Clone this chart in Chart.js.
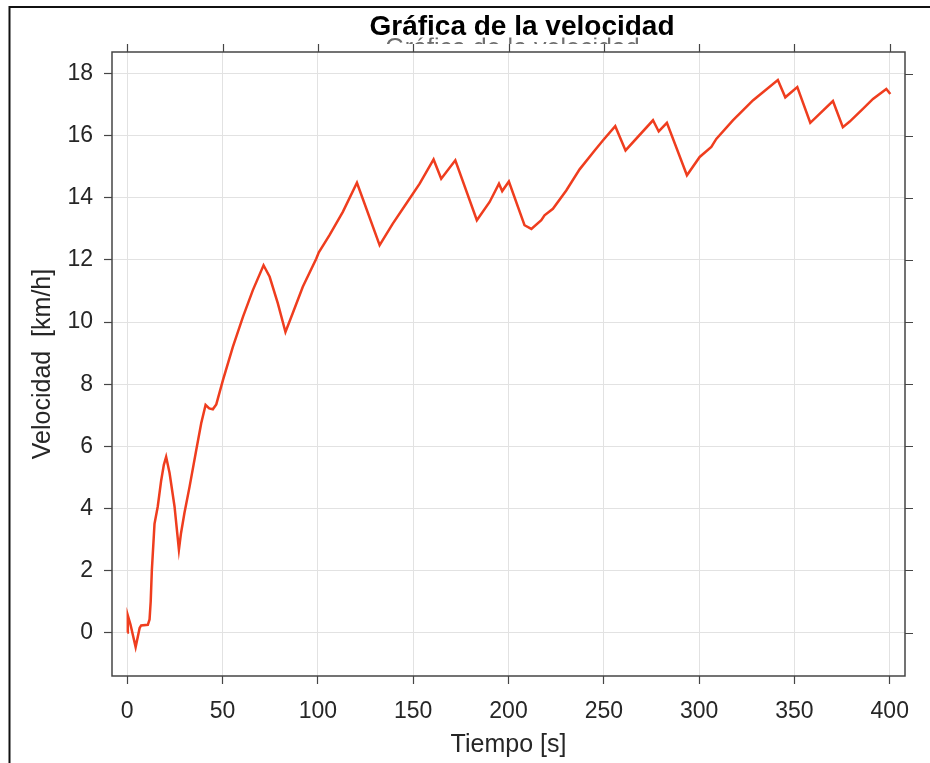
<!DOCTYPE html>
<html lang="es">
<head>
<meta charset="utf-8">
<title>Gráfica de la velocidad</title>
<script src="https://cdn.jsdelivr.net/npm/chart.js@4/dist/chart.umd.min.js"></script>
<style>
  html, body { margin: 0; padding: 0; background: #ffffff; }
  #wrap { position: relative; width: 930px; height: 763px; }
</style>
</head>
<body>
<div id="wrap"><canvas id="grafica" width="930" height="763"></canvas></div>
<script>
// Tiempo en segundos y velocidad medida en km/h
const tiempo = [
  0, 0.3, 1.7, 4.4, 6.5, 7.3, 10.8, 11.7, 12.3, 12.9, 14.3, 16, 17.8, 19.2, 20.4,
  22.2, 24.8, 27.1, 28.2, 30, 32.7, 36.2, 38.8, 41.1, 43, 44.9, 46.7, 50.2, 55.4,
  60.7, 65.9, 71.5, 74.7, 79, 83, 86.9, 92.1, 99.2, 100.5, 106.1, 113.1, 120.5,
  132.4, 139.3, 146.4, 153.4, 160.7, 164.7, 172.1, 183.4, 190.1, 195, 196.7,
  200.2, 208.4, 212, 217.2, 218.9, 223.3, 230.3, 237.3, 245.2, 249.5, 256, 261.4,
  275.8, 278.8, 283.1, 293.6, 300.3, 306.4, 309, 317.7, 328.2, 341.3, 345.2,
  351.5, 358.3, 370.2, 375.4, 379, 385.9, 391.2, 398.2, 400.3
];
const velocidad = [
  0, 0.55, 0.26, -0.47, 0.15, 0.23, 0.25, 0.42, 1.0, 2.0, 3.5, 4.06, 4.9, 5.4, 5.66,
  5.14, 4.06, 2.67, 3.2, 3.85, 4.7, 5.88, 6.74, 7.33, 7.22, 7.19, 7.35, 8.13, 9.2,
  10.17, 11.03, 11.83, 11.46, 10.6, 9.68, 10.3, 11.14, 12.05, 12.25, 12.8, 13.55, 14.49,
  12.48, 13.17, 13.82, 14.46, 15.24, 14.62, 15.21, 13.28, 13.87, 14.46, 14.22,
  14.53, 13.12, 13.0, 13.28, 13.44, 13.65, 14.24, 14.92, 15.53, 15.85, 16.31, 15.53,
  16.5, 16.14, 16.42, 14.73, 15.32, 15.64, 15.9, 16.5, 17.14, 17.8, 17.24,
  17.57, 16.42, 17.12, 16.28, 16.46, 16.87, 17.19, 17.51, 17.35
];

// Marcas de los ejes
const ticksTiempo = [0, 50, 100, 150, 200, 250, 300, 350, 400];
const ticksVelocidad = [0, 2, 4, 6, 8, 10, 12, 14, 16, 18];

const titulo = 'Gráfica de la velocidad';
const etiquetaX = 'Tiempo [s]';
const etiquetaY = 'Velocidad  [km/h]';

const FUENTE = '"Liberation Sans", Arial, Helvetica, sans-serif';
const COLOR_TEXTO = '#262626';
const COLOR_EJE = '#454545';
const COLOR_REJILLA = '#e2e2e2';

const puntos = tiempo.map((t, i) => ({ x: t, y: velocidad[i] }));

// Caja de los ejes con marcas en los cuatro lados, marco exterior y título
const cajaEjes = {
  id: 'cajaEjes',
  afterDatasetsDraw(chart) {
    const { ctx, chartArea: a, scales } = chart;
    ctx.save();
    ctx.strokeStyle = COLOR_EJE;
    ctx.lineWidth = 1.5;
    ctx.strokeRect(a.left, a.top, a.right - a.left, a.bottom - a.top);
    ctx.beginPath();
    ticksTiempo.forEach(v => {
      const px = Math.round(scales.x.getPixelForValue(v)) + 0.5;
      ctx.moveTo(px, a.top);
      ctx.lineTo(px, a.top - 8);
    });
    ticksVelocidad.forEach(v => {
      const py = Math.round(scales.y.getPixelForValue(v)) + 0.5;
      ctx.moveTo(a.right, py);
      ctx.lineTo(a.right + 8, py);
    });
    ctx.lineWidth = 1.2;
    ctx.stroke();
    ctx.restore();
  },
  afterDraw(chart) {
    const { ctx, width, height } = chart;
    ctx.save();
    // marco exterior
    ctx.strokeStyle = '#111111';
    ctx.lineWidth = 2;
    ctx.beginPath();
    ctx.moveTo(9.5, height);
    ctx.lineTo(9.5, 7);
    ctx.lineTo(width, 7);
    ctx.stroke();

    // copia tenue del título, recortada bajo el principal
    ctx.save();
    ctx.beginPath();
    ctx.rect(0, 37.5, width, 6.5);
    ctx.clip();
    ctx.fillStyle = '#6e6e6e';
    ctx.font = '25px ' + FUENTE;
    ctx.textAlign = 'center';
    ctx.textBaseline = 'alphabetic';
    ctx.fillText(titulo, 512.5, 56);
    ctx.restore();

    // título principal
    ctx.fillStyle = '#000000';
    ctx.font = 'bold 28px ' + FUENTE;
    ctx.textAlign = 'center';
    ctx.textBaseline = 'alphabetic';
    ctx.fillText(titulo, 522, 35);
    ctx.restore();
  }
};

new Chart(document.getElementById('grafica'), {
  type: 'line',
  data: {
    datasets: [{
      label: 'Velocidad',
      data: puntos,
      borderColor: '#ef3d1e',
      borderWidth: 2.5,
      pointRadius: 0,
      tension: 0,
      fill: false
    }]
  },
  options: {
    responsive: false,
    animation: false,
    devicePixelRatio: 1,
    layout: { padding: { top: 52, right: 25, left: 0, bottom: 0 } },
    plugins: {
      legend: { display: false },
      tooltip: { enabled: false },
      title: { display: false }
    },
    scales: {
      x: {
        type: 'linear',
        min: -8,
        max: 408,
        afterBuildTicks: s => { s.ticks = ticksTiempo.map(v => ({ value: v })); },
        afterFit: s => { s.height = 87; },
        border: { display: false },
        grid: { color: COLOR_REJILLA, lineWidth: 1, tickColor: COLOR_EJE, tickLength: 8, tickWidth: 1.2 },
        ticks: {
          color: COLOR_TEXTO,
          font: { family: FUENTE, size: 23 },
          padding: 14,
          maxRotation: 0,
          autoSkip: false
        },
        title: {
          display: true,
          text: etiquetaX,
          color: COLOR_TEXTO,
          font: { family: FUENTE, size: 25 },
          padding: { top: 0, bottom: 3 }
        }
      },
      y: {
        type: 'linear',
        min: -1.4,
        max: 18.7,
        afterBuildTicks: s => { s.ticks = ticksVelocidad.map(v => ({ value: v })); },
        afterFit: s => { s.width = 112; },
        border: { display: false },
        grid: { color: COLOR_REJILLA, lineWidth: 1, tickColor: COLOR_EJE, tickLength: 8, tickWidth: 1.2 },
        ticks: {
          color: COLOR_TEXTO,
          font: { family: FUENTE, size: 23 },
          padding: 11,
          autoSkip: false
        },
        title: {
          display: true,
          text: etiquetaY,
          color: COLOR_TEXTO,
          font: { family: FUENTE, size: 25 },
          padding: { top: 28, bottom: 0 }
        }
      }
    }
  },
  plugins: [cajaEjes]
});
</script>
</body>
</html>
